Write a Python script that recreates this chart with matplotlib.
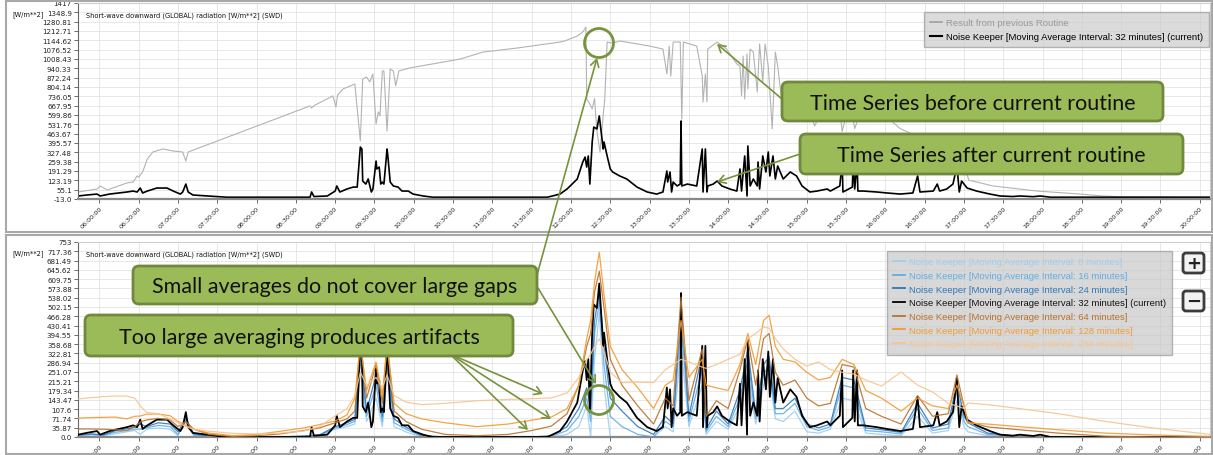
import numpy as np
import matplotlib.pyplot as plt
from matplotlib.patches import FancyBboxPatch, Ellipse, FancyArrowPatch, Rectangle
from matplotlib.lines import Line2D
from matplotlib.transforms import IdentityTransform

# --- data (time in decimal hours, values in W/m**2) ---
# previous routine (grey, top panel)
prev_h = [5.73, 5.97, 6.01, 6.10, 6.35, 6.43, 6.48, 6.50, 6.55, 6.61,
          6.68, 6.81, 6.94, 7.06, 7.10, 7.13, 8.68, 8.70, 8.73, 8.97,
          9.01, 9.03, 9.10, 9.25, 9.32, 9.35, 9.40, 9.44, 9.48, 9.52,
          9.55, 9.57, 9.60, 9.62, 9.66, 9.70, 9.74, 9.77, 9.81, 9.95,
          10.59, 10.88, 11.31, 11.86, 11.92, 12.08, 12.15, 12.19, 12.20, 12.24,
          12.27, 12.30, 12.33, 12.37, 12.41, 12.43, 12.46, 12.52, 12.58, 12.62,
          13.00, 13.17, 13.22, 13.25, 13.27, 13.30, 13.39, 13.41, 13.43, 13.60,
          13.67, 13.68, 13.71, 13.73, 13.74, 13.86, 13.98, 14.11, 14.15, 14.17,
          14.19, 14.21, 14.24, 14.25, 14.28, 14.32, 14.37, 14.40, 14.44, 14.47,
          14.51, 14.56, 14.60, 14.63, 14.66, 14.70, 14.80, 14.95, 15.10, 15.25,
          15.42, 15.45, 15.55, 15.61, 15.68, 15.80, 15.99, 16.19, 16.38, 16.57,
          16.76, 16.89, 17.01, 17.04, 17.06, 17.11, 17.37, 17.93, 18.48, 18.73,
          19.00, 20.13]
prev_v = [38, 60, 82, 53, 104, 111, 155, 147, 184, 279,
          330, 352, 337, 330, 264, 330, 666, 651, 668, 739,
          658, 745, 790, 826, 410, 862, 877, 841, 899, 534,
          622, 593, 921, 921, 483, 935, 921, 812, 921, 943,
          1008, 1059, 1088, 1132, 1140, 1176, 1205, 1242, 717, 680,
          644, 720, 480, 330, 600, 717, 1132, 1125, 1132, 1140,
          1103, 1081, 899, 1103, 884, 1132, 1132, 571, 1132, 1103,
          884, 695, 899, 695, 1081, 1132, 1081, 972, 957, 739,
          1030, 717, 1045, 790, 1081, 1059, 768, 1118, 841, 1118,
          957, 498, 1059, 957, 812, 600, 720, 760, 520, 700,
          650, 480, 700, 500, 620, 550, 600, 500, 450, 380,
          300, 230, 170, 168, 125, 118, 82, 45, 23, 10,
          3, 0]

# Noise Keeper, 32 minutes (black, both panels)
cur_h = [5.73, 5.84, 5.97, 6.01, 6.13, 6.35, 6.43, 6.48, 6.52, 6.55,
         6.61, 6.73, 6.86, 6.94, 7.03, 7.06, 7.10, 7.13, 7.19, 7.37,
         7.62, 8.68, 8.70, 8.73, 8.90, 9.00, 9.02, 9.06, 9.15, 9.23,
         9.28, 9.32, 9.34, 9.35, 9.39, 9.42, 9.46, 9.48, 9.52, 9.53,
         9.56, 9.58, 9.60, 9.62, 9.66, 9.67, 9.70, 9.74, 9.80, 9.85,
         9.93, 9.99, 10.12, 10.24, 11.70, 11.86, 11.95, 12.08, 12.15, 12.18,
         12.20, 12.22, 12.24, 12.27, 12.29, 12.33, 12.36, 12.38, 12.41, 12.42,
         12.46, 12.50, 12.53, 12.62, 12.71, 12.84, 12.97, 13.09, 13.17, 13.22,
         13.23, 13.26, 13.28, 13.30, 13.35, 13.39, 13.40, 13.41, 13.48, 13.60,
         13.67, 13.68, 13.71, 13.73, 13.74, 13.81, 13.86, 13.92, 14.02, 14.11,
         14.15, 14.17, 14.21, 14.24, 14.25, 14.28, 14.32, 14.37, 14.38, 14.40,
         14.44, 14.48, 14.51, 14.53, 14.57, 14.60, 14.63, 14.70, 14.79, 14.87,
         14.94, 15.04, 15.13, 15.26, 15.30, 15.42, 15.45, 15.46, 15.58, 15.59,
         15.61, 15.64, 15.65, 15.72, 15.89, 16.02, 16.19, 16.35, 16.41, 16.44,
         16.61, 16.66, 16.69, 16.78, 16.86, 16.91, 16.94, 16.97, 17.04, 17.16,
         17.33, 17.46, 17.62, 17.71, 17.88, 17.97, 18.10, 20.13]
cur_v = [9, 16, 23, 9, 23, 38, 45, 38, 67, 31,
         45, 67, 67, 45, 23, 38, 96, 38, 16, 9,
         0, 0, 38, 5, 9, 45, 82, 38, 60, 74,
         74, 366, 352, 118, 96, 133, 38, 60, 264, 206,
         220, 96, 110, 96, 352, 301, 111, 82, 74, 45,
         45, 23, 9, 0, 0, 23, 60, 133, 257, 293,
         220, 301, 96, 403, 512, 498, 593, 498, 352, 403,
         301, 206, 184, 155, 133, 74, 38, 23, 38, 191,
         111, 184, 38, 111, 82, 96, 556, 82, 96, 82,
         352, 38, 352, 38, 82, 96, 118, 82, 60, 45,
         206, 45, 301, 9, 374, 82, 133, 82, 257, 60,
         301, 184, 330, 155, 301, 133, 228, 133, 184, 155,
         82, 38, 45, 60, 45, 82, 257, 38, 74, 257,
         60, 257, 45, 45, 38, 31, 23, 31, 155, 38,
         45, 96, 45, 60, 96, 228, 38, 118, 67, 45,
         23, 9, 5, 9, 4, 9, 0, 0]

# other moving-average intervals (bottom panel)
tb = [5.73, 5.9, 6.05, 6.2, 6.35, 6.45, 6.52, 6.6, 6.75, 6.9,
      7.0, 7.1, 7.2, 7.4, 7.7, 8.0, 8.3, 8.6, 8.8, 9.0,
      9.15, 9.25, 9.32, 9.4, 9.52, 9.6, 9.66, 9.75, 9.9, 10.1,
      10.4, 10.8, 11.2, 11.5, 11.75, 11.95, 12.1, 12.2, 12.25, 12.3,
      12.36, 12.42, 12.5, 12.65, 12.85, 13.05, 13.2, 13.3, 13.4, 13.5,
      13.67, 13.72, 13.85, 14.0, 14.15, 14.25, 14.35, 14.45, 14.52, 14.6,
      14.7, 14.85, 15.0, 15.15, 15.3, 15.45, 15.6, 15.75, 15.95, 16.2,
      16.41, 16.6, 16.8, 16.91, 17.0, 17.05, 17.3, 17.7, 18.2, 18.8,
      19.4, 20.13]
ma8 = [5, 8, 5, 12, 20, 25, 10, 30, 35, 30,
       5, 80, 5, 0, 0, 0, 0, 2, 5, 30,
       40, 50, 250, 60, 150, 40, 240, 40, 20, 0,
       0, 0, 0, 0, 0, 10, 40, 120, 0, 300,
       480, 200, 0, 0, 0, 0, 40, 20, 350, 40,
       200, 10, 60, 30, 120, 250, 50, 200, 250, 70,
       60, 100, 20, 15, 30, 150, 140, 15, 10, 5,
       80, 15, 25, 140, 40, 20, 5, 0, 0, 0,
       0, 0]
ma16 = [6, 10, 7, 18, 25, 30, 30, 35, 45, 40,
        10, 60, 8, 2, 0, 0, 0, 3, 6, 35,
        48, 60, 300, 80, 200, 60, 290, 55, 30, 3,
        0, 0, 0, 0, 2, 25, 80, 150, 60, 400,
        520, 280, 80, 40, 10, 0, 60, 40, 450, 60,
        260, 20, 80, 40, 150, 300, 70, 240, 280, 90,
        90, 130, 40, 25, 40, 200, 190, 25, 20, 12,
        110, 25, 35, 180, 60, 40, 10, 2, 0, 0,
        0, 0]
ma24 = [8, 12, 8, 24, 32, 38, 50, 40, 55, 50,
        20, 70, 12, 3, 0, 0, 0, 4, 8, 40,
        55, 68, 340, 100, 240, 80, 330, 70, 38, 6,
        0, 0, 0, 0, 5, 40, 110, 190, 110, 450,
        560, 350, 150, 100, 40, 10, 80, 50, 520, 80,
        320, 30, 100, 50, 180, 340, 90, 280, 310, 110,
        110, 150, 50, 35, 50, 230, 220, 35, 28, 18,
        130, 35, 50, 210, 80, 55, 15, 3, 0, 0,
        0, 0]
ma64 = [31, 31, 30, 28, 25, 40, 58, 66, 72, 66,
        40, 60, 30, 10, 2, 5, 12, 25, 35, 55,
        70, 100, 380, 150, 280, 130, 370, 100, 60, 30,
        10, 5, 10, 25, 42, 90, 200, 350, 400, 560,
        640, 500, 300, 200, 120, 50, 150, 120, 540, 140,
        340, 80, 140, 110, 260, 380, 200, 380, 400, 250,
        200, 220, 150, 120, 130, 280, 270, 110, 80, 50,
        160, 80, 90, 240, 120, 60, 39, 28, 15, 3,
        0, 0]
ma128 = [73, 75, 76, 77, 70, 80, 81, 88, 89, 82,
         60, 45, 30, 15, 5, 10, 22, 35, 48, 62,
         85, 150, 360, 180, 290, 160, 350, 130, 90, 70,
         55, 40, 50, 65, 77, 110, 200, 380, 450, 600,
         714, 550, 350, 260, 190, 110, 200, 220, 450, 230,
         300, 200, 190, 180, 280, 400, 280, 450, 470, 350,
         300, 290, 250, 220, 230, 300, 280, 180, 150, 100,
         150, 120, 110, 200, 120, 54, 50, 40, 28, 15,
         8, 2]
ma256 = [147, 152, 156, 158, 158, 150, 120, 95, 90, 70,
         55, 40, 30, 22, 14, 12, 15, 23, 40, 81,
         110, 160, 250, 200, 230, 190, 240, 160, 135, 125,
         130, 140, 145, 148, 151, 170, 230, 300, 320, 350,
         380, 330, 250, 210, 212, 210, 260, 280, 300, 290,
         270, 265, 280, 300, 320, 380, 400, 425, 420, 380,
         340, 300, 274, 290, 260, 250, 243, 220, 197, 251,
         200, 174, 130, 120, 110, 131, 125, 110, 90, 60,
         35, 10]

top_ylabels = ['-13.0', '55.1', '123.19', '191.29', '259.38', '327.48', '395.57',
               '463.67', '531.76', '599.86', '667.95', '736.05', '804.14', '872.24',
               '940.33', '1008.43', '1076.52', '1144.62', '1212.71', '1280.81',
               '1348.9', '1417']
bot_ylabels = ['0.0', '35.87', '71.74', '107.6', '143.47', '179.34', '215.21',
               '251.07', '286.94', '322.81', '358.68', '394.55', '430.41', '466.28',
               '502.15', '538.02', '573.88', '609.75', '645.62', '681.49', '717.36',
               '753']

W, H = 1213, 456
fig = plt.figure(figsize=(W / 100, H / 100), dpi=100)
fig.patch.set_facecolor('white')
ID = IdentityTransform()


def fx(x):
    return x / W


def fy(y):
    return 1 - y / H


xt = np.arange(6, 20.01, 0.5)
xlabels = ['%02d:%s:00' % (int(h), '30' if h % 1 else '00') for h in xt]


def style(ax, ymin, ymax, ylabels):
    ax.set_xlim(5.728, 20.13)
    ax.set_ylim(ymin, ymax)
    ax.set_yticks(np.linspace(ymin, ymax, 22), ylabels, fontsize=5.1)
    ax.set_xticks(xt, xlabels, fontsize=4.6, rotation=45, ha='right',
                  rotation_mode='anchor')
    ax.tick_params(length=3, width=0.6, color='#555555', labelcolor='#222222', pad=1.5)
    ax.grid(True, color='#e4e4e4', lw=0.6)
    ax.set_axisbelow(True)
    for s in ['top', 'right']:
        ax.spines[s].set_color('#cfcfcf')
        ax.spines[s].set_linewidth(0.8)
    ax.spines['left'].set_color('#666666')
    ax.spines['left'].set_linewidth(0.8)
    ax.spines['bottom'].set_color('#888888')
    ax.spines['bottom'].set_linewidth(1.6)


title = 'Short-wave downward (GLOBAL) radiation [W/m**2] (SWD)'
leg_kw = dict(loc='upper right', bbox_transform=fig.transFigure, borderaxespad=0,
              fancybox=False, prop={'family': 'Liberation Sans', 'size': 6.8},
              handlelength=1.3, labelspacing=0.5, handletextpad=0.35, borderpad=0.65)

# --- top panel ---
ax1 = fig.add_axes([fx(78), fy(200), (1210 - 78) / W, (200 - 4) / H])
style(ax1, -13.0, 1417.0, top_ylabels)
ax1.plot(prev_h, prev_v, color='#b3b3b3', lw=0.8)
ax1.plot(cur_h, cur_v, color='black', lw=1.2)
fig.text(fx(86), fy(16), title, fontsize=4.8, va='center', color='#111111')
fig.text(fx(12), fy(15), '[W/m**2]', fontsize=4.8, va='center', color='#111111')

h1 = [Line2D([], [], color='#a0a0a0', lw=1.2), Line2D([], [], color='black', lw=1.5)]
leg1 = ax1.legend(h1, ['Result from previous Routine',
                       'Noise Keeper [Moving Average Interval: 32 minutes] (current)'],
                  bbox_to_anchor=(fx(1209), fy(13)), **leg_kw)
leg1.get_frame().set_facecolor('#cccccc')
leg1.get_frame().set_alpha(0.7)
leg1.get_frame().set_edgecolor('#999999')
leg1.get_texts()[0].set_color('#999999')

# --- bottom panel ---
ax2 = fig.add_axes([fx(78), fy(438), (1210 - 78) / W, (438 - 243) / H])
style(ax2, 0.0, 753.2, bot_ylabels)
series = [
    (ma8, '#9fcdf0', '8 minutes]'),
    (ma16, '#5eaee8', '16 minutes]'),
    (ma24, '#2f77bd', '24 minutes]'),
    (cur_v, 'black', '32 minutes] (current)'),
    (ma64, '#b8722c', '64 minutes]'),
    (ma128, '#f29b30', '128 minutes]'),
    (ma256, '#f8c48e', '256 minutes]'),
]
oranges = ('#b8722c', '#f29b30', '#f8c48e')
handles, labels = [], []
for vals, col, lab in series:
    if col == 'black':
        ax2.plot(cur_h, vals, color=col, lw=1.3, zorder=3)
    else:
        ax2.plot(tb, vals, color=col, lw=0.9, alpha=0.9,
                 zorder=4 if col in oranges else 2)
    handles.append(Line2D([], [], color=col, lw=1.3))
    labels.append('Noise Keeper [Moving Average Interval: ' + lab)
fig.text(fx(86), fy(255), title, fontsize=4.8, va='center', color='#111111')
fig.text(fx(12), fy(254), '[W/m**2]', fontsize=4.8, va='center', color='#111111')

leg2 = ax2.legend(handles, labels, bbox_to_anchor=(fx(1172), fy(252)), **leg_kw)
leg2.get_frame().set_facecolor('#c8c8c8')
leg2.get_frame().set_alpha(0.7)
leg2.get_frame().set_edgecolor('#999999')
for t, (vals, col, lab) in zip(leg2.get_texts(), series):
    t.set_color(col if col != 'black' else '#111111')

# zoom buttons
for y0, sym in [(254, '+'), (292, '\u2212')]:
    fig.add_artist(FancyBboxPatch((1183, H - y0 - 20), 21, 20,
                                  boxstyle='round,pad=0,rounding_size=3', transform=ID,
                                  facecolor='#f2f2f2', edgecolor='#3c3c3c', lw=2, zorder=6))
    fig.text(fx(1193.5), fy(y0 + 10), sym, fontsize=13, fontweight='bold',
             ha='center', va='center', color='#222222', zorder=7)

# panel borders
for y0, y1 in [(2, 233), (236, 455)]:
    fig.add_artist(Rectangle((6, H - y1), 1206, y1 - y0, transform=ID, fill=False,
                             edgecolor='#a8a8a8', lw=1.5, zorder=1))

# --- annotations ---
green = '#77933c'


def arrow(x0, y0, x1, y1):
    fig.add_artist(FancyArrowPatch((x0, H - y0), (x1, H - y1), transform=ID,
                                   arrowstyle='->,head_length=5,head_width=3',
                                   color=green, lw=1.2, zorder=8, shrinkA=0, shrinkB=0))


arrow(537, 276, 597, 59)
arrow(538, 289, 596, 385)
arrow(450, 355, 543, 395)
arrow(450, 355, 551, 420)
arrow(450, 355, 528, 431)
arrow(782, 100, 717, 45)
arrow(800, 155, 717, 183)

for cx, cy in [(599, 44), (599, 401)]:
    fig.add_artist(Ellipse((cx, H - cy), 29, 29, transform=ID, fill=False,
                           edgecolor=green, lw=2, zorder=8))


def callout(x0, y0, x1, y1, text):
    fig.add_artist(FancyBboxPatch((x0, H - y1), x1 - x0, y1 - y0,
                                  boxstyle='round,pad=0,rounding_size=6', transform=ID,
                                  facecolor='#9bbb59', edgecolor='#71893f', lw=2, zorder=9))
    fig.text(fx((x0 + x1) / 2), fy((y0 + y1) / 2 + 1), text, family='Lato', fontsize=15.5,
             ha='center', va='center', color='#111111', zorder=10)


callout(782, 83, 1163, 122, 'Time Series before current routine')
callout(800, 135, 1183, 175, 'Time Series after current routine')
callout(133, 267, 537, 305, 'Small averages do not cover large gaps')
callout(85, 316, 513, 357, 'Too large averaging produces artifacts')

fig.savefig('out.png', dpi=100)
